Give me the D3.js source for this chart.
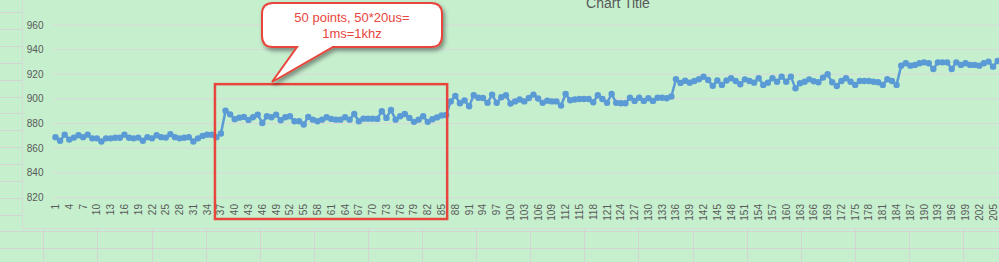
<!DOCTYPE html>
<html>
<head>
<meta charset="utf-8">
<script src="https://cdn.jsdelivr.net/npm/d3@7"></script>
<style>
html, body { margin: 0; padding: 0; background: #c6efce; overflow: hidden; }
svg { display: block; font-family: "Liberation Sans", Arial, sans-serif; }
</style>
</head>
<body>
<div class="draw"></div>
<script>
// samples, one per category 1..206
var categories = d3.range(1, 207);
var values = [
  869, 866, 871, 867, 868.6, 870.5, 869, 871, 868, 868,
  865.4, 868, 868, 868.5, 868.5, 871, 868.5, 868, 868.6, 866,
  869, 868, 870.5, 869, 868.6, 871.4, 869, 868, 868.5, 869,
  865.4, 868, 870, 871, 871, 869, 872, 890.5, 887.5, 883.6,
  884.8, 885.4, 883, 885.1, 887.3, 880.5, 886, 885.1, 887.3, 882.7,
  885.1, 886, 881.9, 881.9, 879.2, 885.4, 883.2, 881.9, 883.2, 885.1,
  883.8, 883.2, 883.2, 885.1, 883.2, 887.8, 881.9, 884, 884, 884,
  883.8, 890, 884.6, 891, 883.2, 886, 887.8, 884.6, 881.4, 883.2,
  886, 881.4, 883.5, 885, 886.5, 887, 898, 902.5, 896.5, 898.8,
  894, 903, 901, 900.8, 896.8, 903.5, 896.8, 901.4, 903, 896.2,
  898, 899.5, 898, 900.8, 903.5, 900.3, 896.8, 898.6, 898, 898,
  894.6, 904, 898.9, 899.5, 900, 900, 900, 897.3, 903, 900,
  896.8, 904, 896.8, 896.5, 896.5, 901, 898.4, 901, 898.4, 900.5,
  898.4, 901, 901, 900.5, 902, 916, 913, 914.8, 913.2, 914.6,
  916, 918, 915.4, 910.6, 914.9, 911.4, 914.9, 916.8, 914.6, 911.9,
  915.9, 914.6, 913.2, 916.8, 911.4, 913.2, 916.8, 914, 918.1, 914,
  918.1, 908.6, 912.7, 914, 915.9, 914.3, 913.5, 917.3, 920, 913.5,
  910.5, 914.6, 916.8, 914, 911.4, 914.6, 914.6, 914.6, 914, 913.5,
  911.4, 916, 914.6, 911.4, 927, 928.9, 927, 927.6, 928.9, 929.7,
  928.9, 924.3, 929.7, 929.7, 929.7, 924.3, 929.7, 927.6, 928.9, 927.6,
  927.6, 927, 928.9, 930.3, 926.2, 930.8
];
var yTicks = [820, 840, 860, 880, 900, 920, 940, 960];
var chartTitle = 'Chart Title';
var calloutLines = ['50 points, 50*20us=', '1ms=1khz'];
var frameFrom = 37, frameTo = 86;

var size = { w: 999, h: 262 };
var step = 4.596;
var plot = { left: 53.2, top: 25, bottom: 197.5 };
var chartArea = { left: 22, bottom: 228 };
var grey = '#595959';
var gridColor = '#d9d9d9';
var blue = '#5b9bd5';
var red = '#e8453c';

var svg = d3.select('.draw').append('svg')
  .attr('width', size.w)
  .attr('height', size.h);

var defs = svg.append('defs');
var shadow = defs.append('filter').attr('id', 'shadow')
  .attr('x', '-20%').attr('y', '-20%').attr('width', '140%').attr('height', '160%');
shadow.append('feDropShadow')
  .attr('dx', 2).attr('dy', 3).attr('stdDeviation', 2)
  .attr('flood-color', '#000').attr('flood-opacity', 0.4);

// spreadsheet cells behind the chart
svg.append('rect').attr('width', size.w).attr('height', size.h).attr('fill', '#c6efce');
var sheet = svg.append('g').attr('stroke', '#d4d4d4').attr('stroke-width', 1);
d3.range(0, 15).forEach(function(k) {
  var y = Math.round(12.3 + k * 16.86) + 0.5;
  sheet.append('line').attr('x1', 0).attr('x2', size.w).attr('y1', y).attr('y2', y);
});
d3.range(0, 18).forEach(function(k) {
  var x = Math.round(43.3 + k * 54.1) + 0.5;
  sheet.append('line').attr('x1', x).attr('x2', x).attr('y1', 0).attr('y2', size.h);
});

// chart area
svg.append('rect')
  .attr('x', chartArea.left + 0.5).attr('y', -5)
  .attr('width', size.w + 20).attr('height', chartArea.bottom + 5.5)
  .attr('fill', '#c6efce')
  .attr('stroke', gridColor);

var x = d3.scaleBand()
  .domain(categories)
  .range([plot.left, plot.left + categories.length * step])
  .padding(0);
var xc = function(c) { return x(c) + x.bandwidth() / 2; };
var y = d3.scaleLinear()
  .domain([820, 960])
  .range([plot.bottom, plot.top]);

// horizontal gridlines
svg.append('g').selectAll('line').data(yTicks).enter().append('line')
  .attr('x1', plot.left).attr('x2', x.range()[1] + 20)
  .attr('y1', function(d) { return y(d); })
  .attr('y2', function(d) { return y(d); })
  .attr('stroke', gridColor).attr('stroke-width', 1);

// y labels
svg.append('g').selectAll('text').data(yTicks).enter().append('text')
  .attr('x', 43.5)
  .attr('y', function(d) { return y(d); })
  .attr('dy', '0.35em')
  .attr('text-anchor', 'end')
  .attr('font-size', 10)
  .attr('fill', grey)
  .text(function(d) { return d; });

// x labels, every third category
svg.append('g').selectAll('text')
  .data(categories.filter(function(c) { return c % 3 === 1; }))
  .enter().append('text')
  .attr('transform', function(d) { return 'translate(' + xc(d) + ',' + (plot.bottom + 6.5) + ') rotate(-90)'; })
  .attr('dy', '0.35em')
  .attr('text-anchor', 'end')
  .attr('font-size', 10)
  .attr('fill', grey)
  .text(function(d) { return d; });

// title (mostly cut off at the top)
svg.append('text')
  .attr('x', 618).attr('y', 8)
  .attr('text-anchor', 'middle')
  .attr('font-size', 14)
  .attr('fill', grey)
  .text(chartTitle);

// series
var rows = categories.map(function(c, i) { return { c: c, v: values[i] }; });
var line = d3.line()
  .x(function(d) { return xc(d.c); })
  .y(function(d) { return y(d.v); });
svg.append('path').datum(rows)
  .attr('d', line)
  .attr('fill', 'none')
  .attr('stroke', blue)
  .attr('stroke-width', 2.5)
  .attr('stroke-linejoin', 'round');
svg.append('g').selectAll('circle').data(rows).enter().append('circle')
  .attr('cx', function(d) { return xc(d.c); })
  .attr('cy', function(d) { return y(d.v); })
  .attr('r', 3.2)
  .attr('fill', blue);

// red frame around the 50 highlighted points
var fx0 = xc(frameFrom) - 6, fx1 = xc(frameTo) + 1;
svg.append('rect')
  .attr('x', fx0).attr('y', y(912))
  .attr('width', fx1 - fx0).attr('height', plot.bottom + 21.5 - y(912))
  .attr('fill', 'none')
  .attr('stroke', red)
  .attr('stroke-width', 2.5);

// callout bubble
var b = { x0: 262, y0: 3, x1: 442, y1: 47, r: 11 };
var tip = [272, 82];
var bubble = d3.path();
bubble.moveTo(b.x0 + b.r, b.y0);
bubble.lineTo(b.x1 - b.r, b.y0);
bubble.quadraticCurveTo(b.x1, b.y0, b.x1, b.y0 + b.r);
bubble.lineTo(b.x1, b.y1 - b.r);
bubble.quadraticCurveTo(b.x1, b.y1, b.x1 - b.r, b.y1);
bubble.lineTo(333, b.y1);
bubble.lineTo(tip[0], tip[1]);
bubble.lineTo(297, b.y1);
bubble.lineTo(b.x0 + b.r, b.y1);
bubble.quadraticCurveTo(b.x0, b.y1, b.x0, b.y1 - b.r);
bubble.lineTo(b.x0, b.y0 + b.r);
bubble.quadraticCurveTo(b.x0, b.y0, b.x0 + b.r, b.y0);
bubble.closePath();
svg.append('path')
  .attr('d', bubble.toString())
  .attr('fill', '#fff')
  .attr('stroke', red)
  .attr('stroke-width', 2)
  .attr('filter', 'url(#shadow)');

svg.append('g').selectAll('text').data(calloutLines).enter().append('text')
  .attr('x', (b.x0 + b.x1) / 2)
  .attr('y', function(d, i) { return 22 + i * 15.5; })
  .attr('text-anchor', 'middle')
  .attr('font-size', 13)
  .attr('fill', red)
  .text(function(d) { return d; });
</script>
</body>
</html>
